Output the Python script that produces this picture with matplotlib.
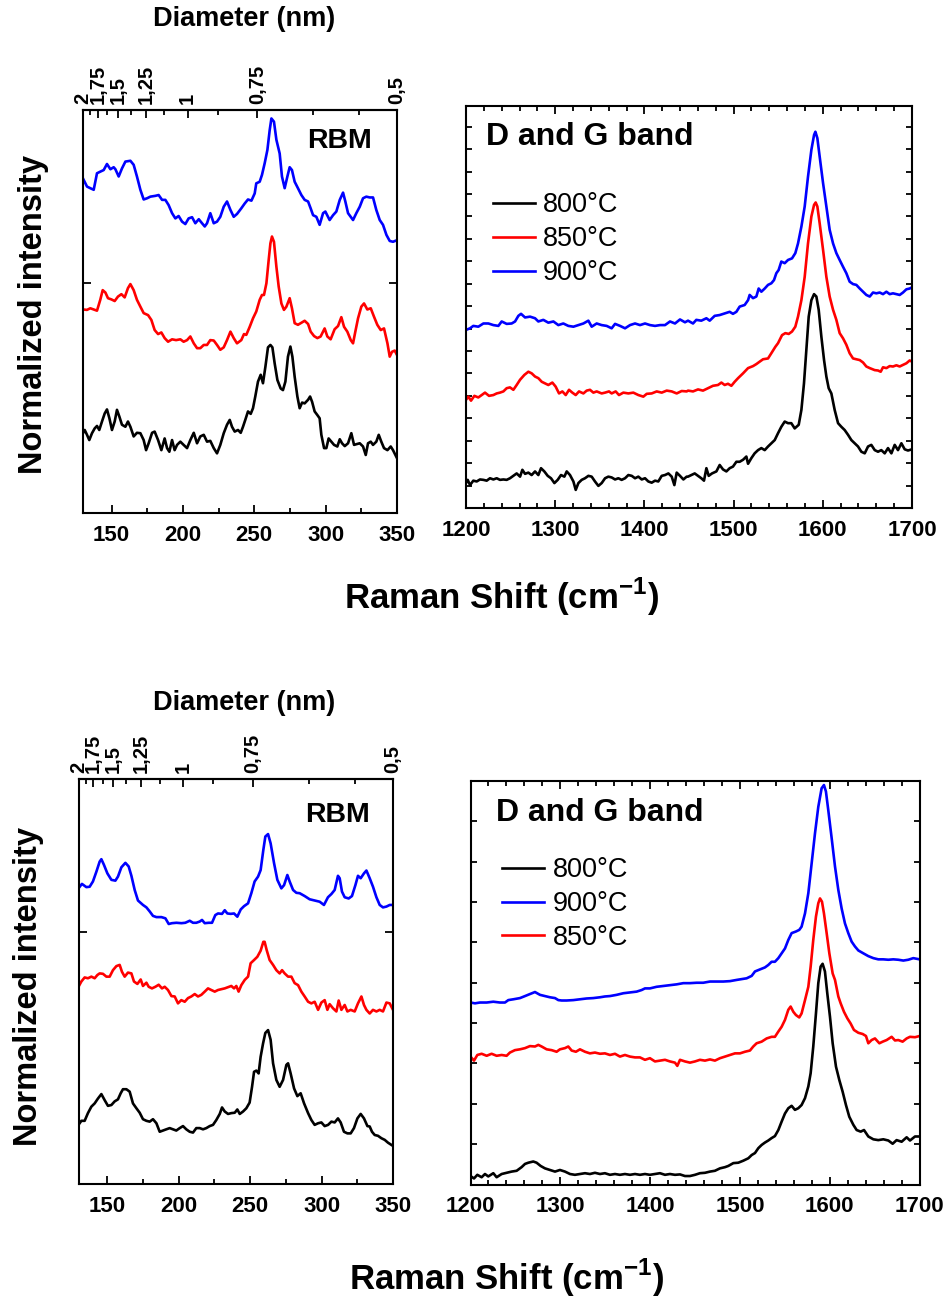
import numpy as np
import matplotlib
matplotlib.use("Agg")
import matplotlib.pyplot as plt
from matplotlib.ticker import MultipleLocator, FixedLocator

plt.rcParams['font.family'] = ['Liberation Sans', 'DejaVu Sans']
plt.rcParams['mathtext.fontset'] = 'custom'
plt.rcParams['mathtext.rm'] = 'Liberation Sans'
plt.rcParams['mathtext.bf'] = 'Liberation Sans:bold'

# ---------------------------------------------------------------- data
temps = ["800°C", "850°C", "900°C"]
colors = {"800°C": "#000000", "850°C": "#ff0000", "900°C": "#0000ff"}

# diameter axis: shift = A / d + B
diam_A, diam_B = 146.66, 56.68
diam_ticks = [2, 1.75, 1.5, 1.25, 1, 0.75, 0.5]
diam_labels = ["2", "1,75", "1,5", "1,25", "1", "0,75", "0,5"]
diam_minor = [1.875, 1.625, 1.375, 1.125, 0.875, 0.625, 0.55]

# --- sample set 1, RBM region (Raman shift cm-1, normalized intensity)
rbm1_x_900 = [130, 132.8, 135.1, 137.5, 139.8, 142.1, 144.5, 146.8, 149.2, 151.5, 152.7, 155.0, 157.3, 159.7, 163.2, 165.5,
              167.8, 170.2, 172.5, 174.9, 177.2, 180.7, 183.0, 185.4, 187.7, 190.0, 192.4, 194.7, 197.0, 199.4, 201.7, 204.0,
              206.4, 208.7, 211.1, 213.4, 215.3, 216.9, 219.2, 221.6, 223.9, 226.2, 228.6, 230.9, 233.3, 235.6, 237.9,
              240.9, 243.3, 245.6, 248.0, 250.3, 251.4, 253.8, 255.4, 257.3, 259.2, 260.8, 262.0, 263.8, 265.5, 267.8, 269.4,
              271.3, 273.2, 274.8, 276.4, 278.3, 280.6, 283.0, 285.3, 287.7, 289.5, 291.2, 293.5, 295.8, 298.2, 299.8, 302.8,
              305.2, 307.5, 309.9, 312.2, 313.8, 315.7, 319.2, 321.5, 323.9, 326.2, 328.5, 330.9, 333.2, 335.5, 337.9, 340.2,
              342.6, 344.9, 347.2, 350]
rbm1_y_900 = [83.0, 81.0, 80.6, 80.2, 84.3, 84.7, 85.1, 86.6, 85.3, 85.8, 85.3, 83.5, 85.5, 87.2, 87.4, 86.4, 83.5, 80.2,
              77.8, 78.1, 78.5, 78.7, 78.9, 77.7, 77.7, 76.4, 74.4, 73.1, 73.7, 72.3, 71.7, 73.1, 73.4, 71.9, 72.9, 71.9,
              71.1, 71.9, 74.4, 71.9, 72.3, 73.5, 76.0, 77.3, 75.2, 73.5, 74.2,
              75.6, 76.8, 77.8, 77.5, 79.3, 81.8, 82.2, 83.9, 86.8, 90.1, 95.0, 97.9, 97.1, 92.6, 89.2, 83.5, 80.6, 83.5,
              85.8, 85.1, 82.2, 80.6, 78.9, 77.7, 77.3, 75.6, 73.9, 73.5, 71.5, 74.4, 74.8, 72.7, 73.9, 74.8, 77.7, 79.5,
              77.3, 74.4, 72.7, 74.4, 76.0, 78.1, 78.5, 78.3, 78.3, 75.2, 72.7, 71.5, 69.0, 67.5, 67.3, 67.7]

rbm1_x_850 = [130, 132.8, 135.1, 137.5, 139.8, 142.1, 143.8, 145.7, 147.5, 149.9, 152.2, 154.5, 156.9, 159.2, 161.5, 163.2,
              165.5, 167.8, 170.2, 172.5, 175.6, 177.9, 180.2, 182.6, 184.9, 187.2, 189.6, 192.4, 195.2, 198.2, 200.5, 202.9,
              205.2, 207.6, 209.9, 212.2, 214.6, 216.9, 219.2, 221.6, 223.9, 226.2, 228.6, 230.9, 233.3, 235.6, 237.9,
              240.9, 242.8, 244.4, 246.8, 249.1, 251.4, 253.8, 255.4, 256.8, 258.5, 260.1, 261.3, 262.4, 263.8, 265.5, 267.1,
              269.0, 270.8, 272.5, 274.8, 276.4, 278.3, 280.6, 283.0, 285.3, 287.7, 289.5, 291.9, 294.2, 296.5, 299.3, 301.2,
              303.5, 306.3, 308.7, 311.0, 312.9, 315.2, 317.6, 319.2, 320.8, 322.7, 325.0, 326.9, 329.2, 331.6, 333.9, 336.2,
              338.6, 340.9, 343.3, 344.9, 346.5, 348.4, 350]
rbm1_y_850 = [50.5, 50.4, 50.8, 50.5, 50.2, 52.9, 55.3, 54.7, 53.3, 53.0, 52.6, 53.7, 54.3, 53.5, 55.8, 56.8, 55.3, 52.9,
              51.2, 49.6, 49.1, 47.9, 45.4, 44.4, 44.8, 43.4, 42.5, 43.1, 42.9, 43.1, 42.5, 42.9, 43.8, 42.1, 40.9, 40.9,
              41.7, 41.7, 42.9, 42.8, 41.7, 40.5, 41.1, 42.9, 45.0, 43.4, 42.1,
              42.9, 44.4, 44.2, 46.2, 48.3, 50.0, 52.9, 54.1, 54.1, 57.0, 62.8, 66.9, 68.6, 67.3, 61.1, 56.2, 52.0, 50.4,
              51.2, 53.3, 50.8, 47.1, 46.7, 47.2, 47.7, 46.9, 45.0, 43.9, 43.4, 43.8, 45.8, 43.8, 43.1, 45.6, 46.4, 48.6,
              46.2, 45.0, 42.9, 42.1, 45.0, 48.3, 51.2, 52.0, 50.5, 50.8, 48.7, 46.7, 45.4, 45.8, 42.1, 38.8, 40.0, 40.3,
              39.2]

rbm1_x_800 = [130, 131.2, 132.8, 134.4, 136.3, 138.2, 139.8, 141.4, 143.3, 145.2, 146.8, 148.5, 150.3, 152.2, 153.8, 155.5,
              157.3, 159.7, 161.5, 163.2, 165.5, 167.8, 170.2, 172.5, 174.2, 176.0, 178.4, 180.2, 182.6, 184.9, 187.2, 188.9,
              190.5, 192.4, 194.2, 195.9, 198.2, 200.5, 202.9, 205.2, 207.6, 209.9, 212.2, 214.6, 216.9, 219.2, 221.6, 223.9,
              226.2, 228.6, 230.9, 232.8, 234.4, 236.3,
              238.6, 240.5, 242.1, 243.7, 245.6, 247.5, 249.1, 250.7, 252.6, 254.5, 256.1, 257.8, 259.6, 261.3, 262.7, 264.3,
              266.2, 268.5, 270.1, 271.8, 273.6, 275.3, 276.7, 278.3, 280.2, 281.8, 283.5, 285.3, 287.7, 289.1, 290.5, 292.3,
              294.2, 295.8, 297.0, 298.9, 300.5, 302.1, 304.0, 305.9, 308.2, 309.9, 311.5, 313.4, 315.7, 318.0, 319.9, 321.8,
              323.9, 326.2, 328.1, 329.7, 331.6, 333.2, 335.5, 337.2, 339.0, 340.9, 343.3, 345.6, 347.2, 350]
rbm1_y_800 = [19.8, 20.6, 19.4, 18.1, 19.8, 21.0, 21.6, 20.6, 22.7, 24.7, 25.7, 23.5, 20.6, 22.7, 25.6, 23.9, 21.9, 21.4,
              22.7, 21.4, 19.0, 19.9, 19.8, 18.1, 15.6, 17.3, 19.9, 20.2, 18.1, 15.6, 18.5, 16.1, 15.2, 18.1, 15.6, 16.9,
              17.7, 16.9, 16.1, 18.1, 19.9, 17.3, 19.0, 19.4, 17.7, 17.9, 16.1, 14.8, 16.9, 19.8, 21.9, 23.1, 21.4, 20.2,
              20.6, 19.9, 21.4, 23.1, 25.2, 24.6, 26.0, 28.9, 32.6, 34.3, 32.2, 36.3, 41.1, 41.7, 41.1, 37.1, 33.0, 30.9,
              30.5, 32.6, 38.8, 41.3, 38.8, 33.8, 28.9, 26.0, 27.4, 27.2, 28.1, 28.9, 27.6, 25.2, 24.3, 23.5, 19.4, 16.1,
              16.1, 18.5, 17.7, 16.9, 16.5, 18.3, 17.3, 16.6, 17.3, 19.8, 16.9, 17.1, 17.3, 16.5, 14.4, 17.3, 17.7, 16.9,
              17.7, 19.4, 17.7, 16.1, 15.6, 16.5, 15.6, 13.6]

# --- sample set 1, D and G band region
dg1_x_900 = [1200, 1204.5, 1208.2, 1213.8, 1219.5, 1225.1, 1230.7, 1236.3, 1240.0, 1245.6, 1251.2, 1255.0, 1258.7, 1261.7,
             1266.2, 1271.8, 1277.4, 1281.1, 1286.7, 1292.3, 1298.0, 1303.5, 1309.1, 1314.7, 1320.4, 1326.0, 1331.6, 1337.2,
             1340.9, 1346.5, 1352.1, 1357.7, 1363.3, 1367.1, 1372.7, 1378.3, 1383.9, 1389.5, 1395.1, 1400.7, 1406.3, 1411.9,
             1417.5, 1423.1, 1428.7, 1434.3, 1439.9, 1445.5,
             1448.9, 1454.5, 1458.2, 1463.8, 1469.5, 1473.2, 1478.8, 1484.4, 1490.0, 1495.6, 1499.3, 1503.1, 1506.8, 1512.4,
             1516.2, 1518.0, 1521.8, 1525.5, 1528.1, 1531.1, 1534.9, 1538.6, 1542.3, 1545.3, 1547.9, 1550.5, 1553.5, 1557.3,
             1561.0, 1565.5, 1569.2, 1572.2, 1576.0, 1579.7, 1583.4, 1587.2, 1590.2, 1591.7, 1593.9, 1596.5, 1600.3, 1604.0,
             1607.7, 1611.5, 1615.2, 1618.9, 1622.7, 1626.4, 1630.1, 1633.9, 1637.6, 1641.4, 1645.1, 1648.8, 1652.6, 1656.3,
             1660.0, 1663.8, 1667.5, 1671.3, 1675.0, 1678.7, 1682.5, 1686.2, 1689.9, 1693.7, 1697.4, 1700]
dg1_y_900 = [44.3, 44.7, 45.3, 45.1, 45.9, 45.9, 45.5, 45.3, 46.4, 45.8, 45.9, 46.4, 47.8, 48.3, 47.4, 47.6, 47.2, 46.4,
             46.8, 46.1, 46.4, 45.5, 45.9, 45.3, 45.1, 45.5, 45.9, 46.6, 45.1, 45.9, 45.5, 45.3, 44.7, 45.8, 45.3, 44.7,
             45.5, 45.9, 45.5, 45.9, 45.5, 45.3, 45.5, 45.5, 46.4, 45.9, 46.9, 46.2,
             46.6, 45.9, 46.8, 46.6, 47.2, 46.6, 47.8, 48.0, 48.4, 48.8, 48.3, 48.8, 50.1, 50.5, 51.7, 53.0, 52.2, 52.6,
             54.6, 53.8, 54.6, 55.5, 55.9, 56.7, 58.4, 59.2, 61.3, 60.9, 61.7, 62.1, 63.4, 65.8, 70.0, 75.0, 82.4, 89.1,
             92.8, 93.6, 92.0, 87.4, 80.8, 75.0, 69.2, 65.8, 63.4, 61.7, 60.0, 58.4, 56.3, 55.7, 55.5, 54.6, 53.8, 53.0,
             52.6, 53.6, 53.4, 53.6, 53.2, 53.8, 53.2, 53.4, 53.2, 53.0, 53.6, 54.4, 54.6, 54.9]

dg1_x_850 = [1200, 1202.6, 1205.6, 1209.4, 1213.8, 1217.6, 1221.3, 1225.8, 1230.7, 1234.4, 1238.1, 1241.9, 1245.6, 1249.3,
             1253.1, 1256.8, 1260.6, 1265.4, 1269.9, 1273.6, 1277.4, 1281.1, 1284.9, 1288.6, 1292.3, 1296.8, 1300.5, 1304.3,
             1308.0, 1311.8, 1315.5, 1319.2, 1323.0, 1326.7, 1331.6, 1335.3, 1339.0, 1342.8, 1346.5, 1352.1, 1355.9, 1360.3,
             1363.3, 1367.8, 1371.5, 1376.4, 1382.0, 1387.6, 1393.2, 1398.8, 1402.6, 1408.2, 1413.8, 1419.4, 1425.0, 1430.6,
             1436.2, 1441.8, 1447.4,
             1448.9, 1454.5, 1460.1, 1465.7, 1471.3, 1476.9, 1482.5, 1486.3, 1490.0, 1493.7, 1497.5, 1501.2, 1505.0, 1510.6,
             1516.2, 1521.8, 1525.5, 1529.2, 1533.0, 1538.6, 1542.3, 1546.8, 1549.8, 1554.3, 1558.0, 1561.8, 1565.5, 1569.2,
             1572.2, 1576.0, 1579.7, 1583.4, 1587.2, 1590.2, 1592.0, 1593.9, 1596.5, 1600.3, 1604.0, 1607.7, 1611.5, 1615.2,
             1618.9, 1622.7, 1626.4, 1630.1, 1633.9, 1637.6, 1641.4, 1645.1, 1648.8, 1652.6, 1658.2, 1661.9, 1664.9, 1667.5,
             1671.3, 1675.0, 1678.7, 1682.5, 1686.2, 1689.9, 1693.7, 1697.4, 1700]
dg1_y_850 = [26.9, 27.7, 26.7, 27.9, 27.5, 28.1, 28.7, 27.9, 28.1, 28.5, 28.7, 29.0, 29.8, 30.0, 29.4, 30.6, 31.9, 33.1,
             33.9, 33.5, 32.7, 32.3, 31.4, 31.0, 30.6, 31.2, 30.2, 28.5, 29.0, 28.1, 29.4, 28.7, 28.1, 29.0, 28.5, 29.2,
             29.4, 28.7, 29.0, 28.5, 28.7, 29.0, 28.5, 29.0, 28.1, 28.7, 28.5, 28.7, 28.1, 27.7, 28.4, 28.5, 29.0, 28.7,
             29.2, 29.0, 28.5, 29.1, 29.0,
             29.2, 29.0, 29.5, 29.2, 29.8, 30.4, 30.6, 31.2, 30.6, 30.9, 30.4, 31.4, 32.3, 33.5, 34.8, 35.3, 35.8, 36.4,
             37.0, 37.2, 38.5, 40.1, 41.0, 43.0, 43.5, 43.3, 43.9, 45.1, 47.6, 51.7, 57.5, 65.8, 72.5, 75.4, 76.0, 75.0,
             70.8, 64.2, 57.5, 52.6, 49.3, 46.8, 43.5, 42.2, 40.6, 38.5, 37.2, 37.0, 36.8, 36.2, 35.2, 34.8, 34.3, 34.2,
             33.9, 35.0, 34.8, 35.3, 35.2, 35.5, 35.2, 35.6, 36.0, 36.7, 36.4]

dg1_x_800 = [1200, 1201.9, 1204.5, 1208.2, 1212.0, 1215.7, 1219.5, 1223.2, 1226.9, 1230.7, 1234.4, 1238.1, 1241.9, 1245.6,
             1249.3, 1253.1, 1256.8, 1260.6, 1263.2, 1266.2, 1269.9, 1273.6, 1277.4, 1281.1, 1284.1, 1287.8, 1291.6, 1295.3,
             1299.1, 1302.8, 1306.5, 1310.3, 1312.9, 1316.6, 1320.4, 1323.0, 1326.0, 1329.7, 1333.4, 1337.2, 1340.9, 1344.6,
             1348.4, 1352.1, 1355.9, 1359.6, 1363.3, 1367.1, 1370.8, 1374.5, 1378.3, 1382.0, 1385.8, 1389.5, 1393.2, 1397.0,
             1400.7, 1404.4, 1408.2, 1411.9, 1415.6, 1419.4, 1423.1, 1426.9, 1430.6, 1433.6, 1436.2, 1439.9, 1443.7, 1447.4,
             1448.9, 1452.6, 1456.4, 1460.1, 1463.8, 1466.8, 1469.5, 1472.1, 1475.8, 1480.7, 1484.4, 1488.1, 1491.9, 1495.6,
             1499.3, 1503.1, 1506.8, 1510.6, 1514.3, 1516.2, 1519.9, 1523.6, 1527.4, 1531.1, 1534.9, 1538.6, 1542.3, 1546.1,
             1549.8, 1553.5, 1557.3, 1561.0, 1564.7, 1568.5, 1573.0, 1576.0, 1578.9, 1581.6, 1584.2, 1587.2, 1590.2, 1592.8,
             1595.4, 1598.4, 1601.4, 1604.0, 1606.6, 1609.6, 1613.3, 1617.1, 1620.8, 1624.5, 1628.3, 1632.0, 1635.8, 1639.5,
             1643.2, 1647.0, 1650.7, 1654.4, 1658.2, 1661.9, 1665.6, 1669.4, 1673.1, 1676.9, 1680.6, 1684.3, 1688.1, 1691.8,
             1695.5, 1700]
dg1_y_800 = [6.2, 7.0, 5.7, 6.8, 6.6, 7.1, 7.0, 6.8, 7.4, 7.1, 7.4, 7.0, 7.1, 7.0, 7.4, 8.0, 8.6, 7.8, 9.5, 8.5,
             8.8, 8.2, 9.1, 8.2, 9.9, 9.1, 8.0, 7.4, 6.2, 7.0, 8.2, 7.8, 9.1, 8.2, 6.6, 4.5, 6.2, 7.0, 7.4, 8.0,
             7.8, 6.6, 5.5, 6.2, 7.4, 7.8, 7.6, 7.1, 7.4, 7.0, 7.4, 8.2, 8.0, 7.4, 7.8, 7.1, 7.4, 6.6, 6.3, 6.8,
             6.6, 8.0, 8.2, 8.6, 7.8, 5.7, 8.8, 8.0, 7.1, 7.8,
             7.8, 8.2, 8.6, 8.0, 7.4, 6.8, 9.9, 8.0, 8.6, 9.1, 10.7, 9.6, 9.1, 9.9, 10.3, 11.5, 11.5, 12.0, 12.8, 11.0,
             12.4, 13.6, 14.4, 14.9, 14.4, 15.3, 16.1, 16.9, 18.6, 20.2, 21.5, 21.1, 21.1, 19.8, 20.7, 24.4, 31.0, 39.3,
             47.6, 51.7, 53.2, 52.6, 49.3, 42.6, 36.8, 32.7, 29.8, 28.5, 24.4, 21.1, 20.2, 19.4, 18.2, 16.9, 16.1, 15.3,
             14.0, 13.6, 15.3, 15.7, 14.4, 14.0, 14.4, 13.6, 14.9, 13.6, 15.7, 14.4, 16.1, 14.6, 14.3, 14.6]

# --- sample set 2, RBM region
rbm2_x_900 = [130, 132.4, 135.5, 137.8, 140.1, 142.5, 144.8, 146.0, 147.8, 150.2, 153.0, 155.8, 157.6, 160.0, 162.8, 165.1,
              167.0, 169.3, 171.6, 175.1, 177.5, 179.8, 182.1, 184.5, 188.0, 190.8, 193.1, 195.4, 198.5, 202.0, 204.7, 207.8,
              210.1, 212.4, 214.8, 216.4, 218.3, 221.1, 223.4, 225.7, 227.6, 230.4, 232.3, 234.1, 236.5, 238.8, 241.1, 243.5,
              245.8, 248.6, 250.9, 253.2, 255.6, 257.4, 259.3, 260.7, 262.6, 264.4, 266.8, 269.1, 271.9, 273.8, 276.1, 277.7,
              280.1, 282.4, 284.7, 288.2, 291.7, 295.2, 298.7, 301.7, 304.5, 306.9, 309.2, 311.5, 312.7, 314.3, 316.2, 319.0,
              321.3, 323.7, 325.5, 327.4, 329.7, 331.4, 333.7, 336.0, 338.4, 340.7, 343.0, 345.4, 347.7, 350]
rbm2_y_900 = [73.0, 74.1, 73.3, 73.4, 74.7, 77.1, 79.6, 80.2, 78.8, 76.7, 75.1, 74.9, 75.9, 78.2, 79.3, 78.4, 76.1, 72.6,
              70.0, 68.9, 68.3, 67.3, 66.2, 65.9, 65.9, 65.6, 64.2, 64.4, 64.5, 64.4, 64.5, 65.0, 64.5, 64.5, 64.8, 65.2,
              64.4, 64.5, 64.5, 66.4, 66.8, 66.7, 67.6, 66.8, 66.7, 66.8, 66.0, 67.8, 68.6, 69.3, 71.8, 74.7, 75.9, 77.5,
              82.5, 85.8, 86.4, 84.1, 79.2, 75.1, 73.0, 73.8, 76.3, 74.7, 72.6, 71.9, 71.8, 71.1, 70.3, 70.0, 69.7, 68.9,
              70.8, 71.6, 72.6, 76.1, 75.5, 72.2, 70.8, 70.5, 71.1, 73.8, 76.1, 75.5, 76.7, 77.4, 75.5, 73.4, 70.8, 68.9,
              68.3, 68.5, 68.9, 68.9]

rbm2_x_850 = [130, 132.0, 134.3, 136.6, 139.0, 141.3, 143.2, 144.8, 147.1, 149.5, 151.8, 154.1, 156.5, 158.8, 160.4, 162.3,
              164.6, 167.0, 168.8, 171.2, 173.5, 175.1, 177.5, 179.1, 181.4, 183.8, 186.1, 188.4, 190.3, 192.6, 195.0, 197.3,
              199.6, 201.9, 204.3, 206.6, 208.9, 211.3, 213.6, 215.9, 218.3, 220.6, 222.9, 225.3, 227.6, 229.9, 232.3, 234.6,
              236.9, 238.8, 240.4, 242.0, 243.9, 246.3, 248.6, 250.4, 252.8, 255.1, 257.4, 259.3, 260.2, 261.6, 263.7, 266.1,
              268.4, 270.7, 272.4, 274.2, 276.6, 278.9, 281.2, 283.6, 285.9, 288.2, 290.6, 292.9, 295.2, 297.6, 299.9, 302.2,
              304.1, 305.7, 308.0, 310.4, 312.0, 313.9, 316.2, 318.1, 320.4, 323.2, 325.5, 327.9, 329.7, 331.4, 333.7, 336.0,
              338.4, 340.7, 343.0, 345.4, 347.7, 350]
rbm2_y_850 = [48.7, 50.0, 51.0, 50.8, 51.2, 50.8, 51.6, 52.0, 51.9, 51.2, 51.2, 52.8, 53.8, 54.1, 52.4, 51.2, 52.2, 52.0,
              50.0, 49.4, 50.5, 48.9, 49.7, 48.7, 48.3, 48.7, 49.2, 48.3, 48.7, 47.9, 46.4, 46.3, 44.6, 45.4, 45.0, 45.9,
              46.3, 46.9, 46.3, 46.7, 47.5, 48.3, 47.9, 47.5, 47.9, 48.1, 48.3, 48.6, 48.9, 48.3, 48.9, 47.5, 49.1, 50.4,
              51.2, 54.5, 55.3, 56.1, 57.6, 59.8, 59.8, 57.8, 55.3, 54.1, 52.8, 52.0, 52.8, 52.0, 51.2, 51.2, 49.6, 49.1,
              47.5, 46.3, 45.0, 44.6, 45.0, 43.0, 44.8, 45.4, 43.0, 44.4, 43.4, 42.6, 45.3, 43.0, 44.2, 42.6, 43.0, 42.6,
              44.6, 46.3, 44.2, 43.0, 42.1, 43.0, 42.6, 43.0, 42.6, 44.8, 44.6, 43.0]

rbm2_x_800 = [130, 132.0, 134.3, 136.6, 139.0, 141.3, 143.6, 146.0, 148.3, 150.6, 153.0, 155.3, 157.6, 159.5, 161.1, 163.5,
              165.8, 168.1, 170.5, 172.8, 175.1, 177.5, 179.8, 182.1, 184.5, 186.8, 189.1, 191.4, 193.8, 196.1, 198.4, 200.8,
              203.1, 205.4, 207.8, 210.1, 212.4, 214.8, 217.1, 219.4, 221.8, 224.1, 226.4, 228.8, 230.4, 232.3, 234.6, 236.9,
              239.3, 241.1, 242.8, 245.1, 247.4, 249.7, 251.4, 252.8, 254.4, 256.0, 257.4, 259.1, 260.7, 262.6, 264.4, 266.1,
              268.4, 270.7, 273.1, 275.4, 276.6, 278.4, 280.8, 283.1, 285.4, 287.8, 290.6, 292.9, 295.2, 297.6, 299.9, 302.2,
              304.6, 306.9, 309.2, 311.5, 313.4, 315.7, 318.1, 320.4, 322.7, 325.1, 327.4, 329.7, 332.1, 333.7, 335.3, 337.2,
              339.5, 341.9, 344.2, 346.5, 350]
rbm2_y_800 = [14.6, 15.6, 15.6, 17.5, 19.1, 19.9, 21.1, 22.2, 20.7, 19.3, 19.5, 20.4, 20.9, 22.4, 23.4, 23.4, 22.8, 19.9,
              18.7, 17.6, 16.0, 15.6, 15.4, 16.0, 15.0, 12.9, 13.2, 13.5, 13.8, 13.5, 13.2, 13.8, 14.3, 13.5, 12.9, 12.7,
              13.8, 13.8, 13.5, 13.8, 14.3, 14.6, 15.8, 17.3, 18.9, 17.9, 17.3, 17.5, 17.6, 18.4, 17.3, 17.9, 18.7, 20.1,
              24.0, 27.7, 28.0, 27.3, 31.4, 34.7, 37.3, 38.0, 35.6, 29.8, 25.7, 24.0, 25.7, 29.4, 29.8, 27.3, 23.6, 21.7,
              22.4, 19.9, 17.5, 15.8, 14.6, 15.0, 15.2, 14.3, 14.6, 15.4, 15.2, 16.2, 15.2, 12.9, 12.5, 12.5, 13.8, 16.2,
              17.3, 16.2, 14.3, 14.2, 12.9, 12.1, 11.9, 11.3, 10.9, 10.2, 9.4]

# --- sample set 2, D and G band region
dg2_x_900 = [1200, 1205.0, 1210.5, 1218.0, 1225.4, 1232.8, 1238.4, 1242.1, 1247.7, 1255.1, 1260.7, 1266.2, 1271.8, 1277.4,
             1282.9, 1288.5, 1294.1, 1297.8, 1301.5, 1307.0, 1314.5, 1321.9, 1329.3, 1336.7, 1344.2, 1349.7, 1355.3, 1362.7,
             1370.2, 1377.6, 1385.0, 1390.6, 1394.3, 1399.8, 1407.3, 1414.7, 1422.1, 1429.5, 1437.0, 1444.4, 1451.8, 1459.2,
             1466.7, 1474.1, 1481.5, 1488.9, 1496.4, 1501.9, 1507.5, 1513.1, 1516.8, 1522.3, 1527.9, 1531.6, 1535.3, 1539.0,
             1542.8, 1546.5, 1550.2, 1553.9, 1557.6, 1562.4, 1566.1, 1568.7, 1572.5, 1576.2, 1579.9, 1583.6, 1587.3, 1591.0,
             1593.6, 1595.8, 1598.4, 1602.2, 1605.9, 1609.6, 1613.3, 1617.0, 1620.7, 1624.4, 1628.1, 1631.9, 1637.4, 1643.0,
             1648.6, 1654.1, 1659.7, 1665.3, 1670.8, 1676.4, 1682.0, 1687.5, 1693.1, 1700]
dg2_y_900 = [45.1, 44.9, 45.1, 45.1, 45.3, 45.1, 45.1, 45.7, 45.9, 46.2, 46.7, 47.2, 47.7, 47.0, 46.7, 46.4, 46.2, 45.7,
             45.6, 45.6, 45.7, 45.9, 46.1, 46.2, 46.4, 46.6, 46.7, 47.0, 47.4, 47.6, 47.8, 48.2, 48.6, 48.6, 49.0, 49.2,
             49.4, 49.6, 49.9, 49.9, 50.0, 50.0, 50.3, 50.3, 50.3, 50.4, 50.7, 50.9, 51.1, 51.7, 52.8, 53.3, 53.8, 54.4,
             55.2, 55.2, 56.1, 57.3, 58.5, 60.6, 62.3, 62.7, 63.1, 63.9, 67.2, 72.2, 79.6, 87.0, 93.6, 98.2, 99.0, 97.4,
             92.8, 85.8, 78.8, 73.0, 68.4, 64.7, 62.3, 60.2, 59.0, 58.0, 57.3, 56.6, 56.1, 55.8, 55.8, 55.7, 55.8, 55.7,
             55.5, 55.7, 56.1, 55.8]

dg2_x_850 = [1200, 1203.9, 1207.6, 1212.4, 1218.0, 1223.5, 1229.1, 1234.7, 1240.2, 1243.9, 1249.5, 1255.1, 1260.7, 1266.2,
             1271.8, 1275.5, 1279.2, 1284.8, 1290.3, 1295.9, 1299.6, 1305.2, 1308.9, 1312.6, 1317.4, 1321.9, 1327.5, 1333.0,
             1338.6, 1344.2, 1349.7, 1355.3, 1360.9, 1366.4, 1372.0, 1377.6, 1383.2, 1388.7, 1394.3, 1399.8, 1405.4, 1411.0,
             1416.6, 1422.1, 1427.7, 1430.3, 1433.3, 1438.8, 1444.4, 1450.0, 1455.5, 1461.1, 1466.7, 1472.2, 1477.8, 1483.4,
             1488.9, 1494.5, 1500.1, 1505.6, 1511.2, 1514.9, 1518.6, 1524.2, 1529.8, 1535.3, 1539.0, 1542.8, 1546.5, 1550.2,
             1553.9, 1556.5, 1559.5, 1562.4, 1566.1, 1568.7, 1572.5, 1576.2, 1578.8, 1581.7, 1584.7, 1587.3, 1589.2, 1591.4,
             1593.6, 1596.6, 1599.6, 1603.3, 1605.9, 1609.6, 1612.2, 1615.9, 1619.6, 1623.3, 1627.0, 1631.9, 1636.7, 1640.4,
             1643.0, 1646.7, 1650.4, 1655.3, 1659.0, 1663.4, 1669.0, 1672.7, 1676.4, 1681.2, 1685.7, 1689.4, 1695.0, 1700]
dg2_y_850 = [31.7, 30.7, 32.1, 32.4, 31.9, 32.4, 31.9, 32.1, 31.9, 32.7, 33.3, 33.5, 33.8, 34.3, 34.2, 34.6, 34.2, 33.5,
             33.3, 32.9, 33.5, 33.8, 34.2, 33.2, 32.9, 33.5, 32.9, 32.5, 32.7, 32.4, 32.5, 32.1, 32.4, 31.7, 32.1, 31.7,
             31.5, 31.5, 30.9, 31.3, 30.5, 30.7, 30.9, 30.5, 30.2, 29.4, 30.9, 30.5, 30.2, 30.5, 30.9, 30.7, 31.0, 30.7,
             31.3, 31.7, 32.1, 32.5, 32.5, 32.9, 33.2, 34.2, 35.0, 35.4, 36.2, 36.6, 36.6, 37.9, 39.1, 40.8, 43.3, 44.1,
             42.8, 42.0, 41.4, 42.4, 45.7, 49.0, 54.0, 60.6, 66.4, 69.7, 70.9, 70.1, 67.2, 62.3, 57.3, 52.3, 50.7, 46.6,
             44.9, 42.8, 41.2, 39.9, 38.3, 37.6, 37.3, 36.8, 35.0, 35.8, 36.2, 35.0, 35.4, 35.8, 36.6, 35.7, 35.8, 35.4,
             36.2, 36.6, 36.5, 36.8]

dg2_x_800 = [1200, 1203.9, 1207.6, 1212.4, 1216.1, 1219.8, 1225.4, 1229.1, 1234.7, 1240.2, 1245.8, 1251.4, 1256.9, 1260.7,
             1264.4, 1269.9, 1273.6, 1278.1, 1282.9, 1288.5, 1294.1, 1299.6, 1305.2, 1310.8, 1316.3, 1321.9, 1327.5, 1333.0,
             1338.6, 1344.2, 1349.7, 1355.3, 1360.9, 1366.4, 1372.0, 1377.6, 1383.2, 1388.7, 1394.3, 1399.8, 1405.4, 1411.0,
             1416.6, 1422.1, 1427.7, 1433.3, 1438.8, 1444.4, 1450.0, 1455.5, 1461.1, 1466.7, 1472.2, 1477.8, 1483.4, 1487.1,
             1492.7, 1498.2, 1503.8, 1509.4, 1513.1, 1516.8, 1520.5, 1524.2, 1527.9, 1531.6, 1535.3, 1539.0, 1542.8, 1546.5,
             1550.2, 1553.9, 1557.6, 1561.3, 1565.0, 1568.7, 1572.5, 1576.2, 1578.8, 1581.7, 1584.7, 1587.3, 1589.9, 1592.1,
             1594.7, 1597.3, 1600.3, 1603.3, 1607.0, 1610.7, 1614.4, 1618.1, 1621.8, 1626.3, 1630.0, 1634.5, 1638.2, 1643.0,
             1648.6, 1654.1, 1659.7, 1665.3, 1670.1, 1674.5, 1680.1, 1685.7, 1689.4, 1695.0, 1700]
dg2_y_800 = [2.1, 1.5, 2.4, 1.8, 2.6, 2.0, 2.8, 1.8, 2.6, 2.9, 3.2, 3.4, 4.3, 5.1, 5.4, 5.7, 5.4, 4.6, 4.0, 3.6,
             3.2, 3.6, 3.2, 2.6, 2.4, 2.6, 2.8, 2.6, 2.9, 2.6, 2.8, 2.4, 2.6, 2.4, 2.6, 2.4, 2.6, 2.4, 2.6, 2.4,
             2.6, 2.8, 2.4, 2.6, 2.4, 2.5, 2.1, 2.1, 2.4, 2.8, 2.9, 3.2, 3.4, 4.0, 4.3, 4.6, 5.3, 5.4, 5.9, 6.5,
             7.3, 7.8, 9.0, 9.8, 10.4, 10.9, 11.5, 12.0, 13.5, 15.6, 17.6, 18.9, 19.5, 18.5, 18.9, 19.7, 21.4, 24.3,
             27.6, 34.2, 42.4, 49.9, 54.0, 54.7, 52.8, 47.4, 41.6, 35.0, 29.2, 25.9, 23.0, 19.7, 16.8, 14.8, 13.5, 13.1,
             13.5, 11.9, 11.2, 11.0, 11.2, 10.9, 10.1, 11.0, 10.6, 11.7, 10.9, 11.9, 11.9]

rbm_set1 = {"800°C": (rbm1_x_800, rbm1_y_800), "850°C": (rbm1_x_850, rbm1_y_850), "900°C": (rbm1_x_900, rbm1_y_900)}
dg_set1 = {"800°C": (dg1_x_800, dg1_y_800), "850°C": (dg1_x_850, dg1_y_850), "900°C": (dg1_x_900, dg1_y_900)}
rbm_set2 = {"800°C": (rbm2_x_800, rbm2_y_800), "850°C": (rbm2_x_850, rbm2_y_850), "900°C": (rbm2_x_900, rbm2_y_900)}
dg_set2 = {"800°C": (dg2_x_800, dg2_y_800), "850°C": (dg2_x_850, dg2_y_850), "900°C": (dg2_x_900, dg2_y_900)}
legend_order_1 = ["800°C", "850°C", "900°C"]
legend_order_2 = ["800°C", "900°C", "850°C"]

# ---------------------------------------------------------------- figure
W, H = 947, 1301
fig = plt.figure(figsize=(W / 100, H / 100), dpi=100)


def box(l, t, r, b):
    return [l / W, 1 - b / H, (r - l) / W, (b - t) / H]


LW = 1.9
SPINE = 1.5
TICKFS = 16


def shift_to_diam(w):
    w = np.asarray(w, dtype=float)
    return diam_A / np.where(w - diam_B > 1e-6, w - diam_B, 1e-6)


def diam_to_shift(d):
    d = np.asarray(d, dtype=float)
    return diam_A / np.where(d > 1e-6, d, 1e-6) + diam_B


def style_common(ax):
    for s in ax.spines.values():
        s.set_linewidth(SPINE)
    ax.set_ylim(0, 100)
    ax.tick_params(axis='both', which='both', direction='in', width=1.3)
    ax.tick_params(axis='both', which='major', length=6)
    ax.tick_params(axis='both', which='minor', length=3.5)
    ax.tick_params(axis='x', which='major', labelsize=TICKFS, pad=8.5)
    ax.tick_params(axis='y', labelleft=False, left=True, right=True)
    for lab in ax.get_xticklabels():
        lab.set_fontweight('bold')


def rbm_panel(rect, series, ytick, title_xy):
    ax = fig.add_axes(rect)
    for t in temps:
        x, y = series[t]
        ax.plot(x, y, color=colors[t], lw=LW)
    ax.set_xlim(130, 350)
    ax.xaxis.set_major_locator(FixedLocator([150, 200, 250, 300, 350]))
    ax.xaxis.set_minor_locator(FixedLocator([175, 225, 275, 325]))
    ax.set_yticks([ytick])
    style_common(ax)
    ax.tick_params(axis='x', which='both', top=False)
    sec = ax.secondary_xaxis('top', functions=(shift_to_diam, diam_to_shift))
    sec.set_xticks(diam_ticks)
    sec.set_xticklabels(diam_labels, rotation=90, fontweight='bold', fontsize=14.5)
    sec.xaxis.set_minor_locator(FixedLocator(diam_minor))
    sec.tick_params(which='both', direction='in', width=1.3, pad=4)
    sec.tick_params(which='major', length=6)
    sec.tick_params(which='minor', length=3.5)
    sec.spines['top'].set_linewidth(SPINE)
    ax.text(title_xy[0], title_xy[1], "RBM", transform=ax.transAxes, ha='right', va='center',
            fontsize=20.5, fontweight='bold')
    return ax


def dg_panel(rect, series, order, ystep, title_xy, leg_xy):
    ax = fig.add_axes(rect)
    handles = {}
    for t in temps:
        x, y = series[t]
        handles[t], = ax.plot(x, y, color=colors[t], lw=LW)
    ax.set_xlim(1200, 1700)
    ax.xaxis.set_major_locator(MultipleLocator(100))
    ax.xaxis.set_minor_locator(MultipleLocator(20))
    ax.yaxis.set_major_locator(MultipleLocator(ystep))
    style_common(ax)
    ax.tick_params(axis='x', which='both', top=True)
    ax.tick_params(axis='y', which='major', length=4)
    ax.text(title_xy[0], title_xy[1], "D and G band", transform=ax.transAxes, ha='left', va='center',
            fontsize=23, fontweight='bold')
    ax.legend([handles[t] for t in order], order, loc='upper left', bbox_to_anchor=leg_xy,
              frameon=False, fontsize=19.5, handlelength=1.55, handletextpad=0.3,
              labelspacing=0.29, borderpad=0, borderaxespad=0)
    return ax


rbm_panel(box(83, 110, 397, 513), rbm_set1, 57.1, (0.92, 0.922))
dg_panel(box(466, 106, 912, 508), dg_set1, legend_order_1, 5.58, (0.044, 0.924), (0.0605, 0.785))
rbm_panel(box(78.5, 779, 393, 1184), rbm_set2, 62.3, (0.927, 0.911))
dg_panel(box(470.5, 781, 919.5, 1184.5), dg_set2, legend_order_2, 10, (0.057, 0.92), (0.0708, 0.811))

# shared labels
raman_label = r"Raman Shift (cm$^{\mathbf{-1}}$)"
fig.text(502 / W, 1 - 597 / H, raman_label, ha='center', va='center', fontsize=25, fontweight='bold')
fig.text(507 / W, 1 - 1278 / H, raman_label, ha='center', va='center', fontsize=25, fontweight='bold')
fig.text(34 / W, 1 - 315 / H, "Normalized intensity", rotation=90, ha='center', va='center',
         fontsize=23.5, fontweight='bold')
fig.text(29 / W, 1 - 987 / H, "Normalized intensity", rotation=90, ha='center', va='center',
         fontsize=23.5, fontweight='bold')
fig.text(244.5 / W, 1 - 19 / H, "Diameter (nm)", ha='center', va='center', fontsize=19.5, fontweight='bold')
fig.text(244.5 / W, 1 - 703 / H, "Diameter (nm)", ha='center', va='center', fontsize=19.5, fontweight='bold')

fig.savefig("out.png", dpi=100)
